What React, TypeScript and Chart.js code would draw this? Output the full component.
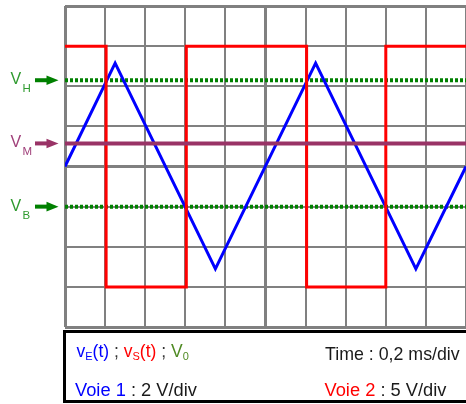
import { useEffect, useRef } from "react";
import { Chart, registerables } from "chart.js";

Chart.register(...registerables);

// ---- data (time in ms, voltages in V) ----
const screenTime = [0, 2]; // 10 div x 0.2 ms/div
const voie1Range = [-8, 8]; // 8 div x 2 V/div
const voie2Range = [-20, 20]; // 8 div x 5 V/div

const triangleTimes = [0, 0.25, 0.75, 1.25, 1.75, 2.0];
const triangleVolts = [0.0, 5.15, -5.1, 5.15, -5.1, 0.0];

const squareTimes = [0, 0.205, 0.205, 0.605, 0.605, 1.205, 1.205, 1.6, 1.6, 2.0];
const squareVolts = [15, 15, -15, -15, 15, 15, -15, -15, 15, 15];

const thresholdNames = ["H", "M", "B"];
const thresholdVolts = [4.3, 1.15, -2.0];

const FONT = '"Liberation Sans", Arial, sans-serif';
const GREEN = "#008000";
const PURPLE = "#993366";
const labelColors = ["#2f9a2f", "#a0407a", "#2f9a2f"];
const arrowColors = [GREEN, PURPLE, GREEN];

const pts = (xs: number[], ys: number[]) => xs.map((x, i) => ({ x, y: ys[i] }));
const hline = (v: number) => [
  { x: screenTime[0], y: v },
  { x: screenTime[1], y: v },
];

const labelPlugin = {
  id: "thresholdLabels",
  afterDraw(chart: any) {
    const ctx = chart.ctx as CanvasRenderingContext2D;
    const y = chart.scales.y;
    ctx.save();
    thresholdVolts.forEach((v, i) => {
      const py = y.getPixelForValue(v);
      ctx.fillStyle = labelColors[i];
      ctx.textBaseline = "alphabetic";
      ctx.font = `16px ${FONT}`;
      ctx.fillText("V", 10.5, py + 4);
      ctx.font = `11.5px ${FONT}`;
      ctx.fillText(thresholdNames[i], 22.5, py + 12);
      ctx.fillStyle = arrowColors[i];
      ctx.fillRect(35, py - 2, 12.5, 4);
      ctx.beginPath();
      ctx.moveTo(46.5, py - 4.8);
      ctx.lineTo(58.5, py);
      ctx.lineTo(46.5, py + 4.8);
      ctx.closePath();
      ctx.fill();
    });
    ctx.restore();
  },
};

function Txt(props: { left: number; base: number; size: number; children: any }) {
  const { left, base, size } = props;
  return (
    <div
      style={{
        position: "absolute",
        left,
        top: base - 0.8465 * size,
        fontSize: size,
        lineHeight: 1,
        whiteSpace: "nowrap",
        fontFamily: FONT,
        color: "#1a1a1a",
      }}
    >
      {props.children}
    </div>
  );
}

function Sub(props: { color: string; size: number; drop: number; children: any }) {
  return (
    <span
      style={{
        position: "relative",
        top: props.drop,
        fontSize: props.size,
        lineHeight: 1,
        color: props.color,
      }}
    >
      {props.children}
    </span>
  );
}

export default function App() {
  const ref = useRef<HTMLCanvasElement | null>(null);

  useEffect(() => {
    document.body.style.margin = "0";
    if (!ref.current) return;
    const chart = new Chart(ref.current, {
      type: "scatter",
      data: {
        datasets: [
          {
            label: "VM",
            data: hline(thresholdVolts[1]),
            showLine: true,
            borderColor: PURPLE,
            borderWidth: 4,
            pointRadius: 0,
            yAxisID: "y",
            order: 0,
          },
          {
            label: "vS(t)",
            data: pts(squareTimes, squareVolts),
            showLine: true,
            borderColor: "#ff0000",
            borderWidth: 3,
            pointRadius: 0,
            yAxisID: "y2",
            order: 1,
          },
          {
            label: "vE(t)",
            data: pts(triangleTimes, triangleVolts),
            showLine: true,
            borderColor: "#0000ff",
            borderWidth: 3,
            pointRadius: 0,
            yAxisID: "y",
            order: 2,
          },
          {
            label: "VH",
            data: hline(thresholdVolts[0]),
            showLine: true,
            borderColor: GREEN,
            borderWidth: 4,
            borderDash: [3, 2],
            pointRadius: 0,
            yAxisID: "y",
            order: 3,
          },
          {
            label: "VB",
            data: hline(thresholdVolts[2]),
            showLine: true,
            borderColor: GREEN,
            borderWidth: 4,
            borderDash: [3, 2],
            pointRadius: 0,
            yAxisID: "y",
            order: 3,
          },
        ],
      },
      options: {
        animation: false,
        responsive: false,
        devicePixelRatio: 1,
        layout: { padding: { left: 65, top: 6, right: 0, bottom: 77 } },
        plugins: { legend: { display: false }, tooltip: { enabled: false } },
        elements: { line: { tension: 0 } },
        scales: {
          x: {
            type: "linear",
            min: screenTime[0],
            max: screenTime[1],
            ticks: { display: false, stepSize: 0.2 },
            border: { display: false },
            grid: {
              color: "#808080",
              drawTicks: false,
              lineWidth: (c: any) => (c.index === 0 || c.index === 5 || c.index === 10 ? 3 : 2),
            },
          },
          y: {
            type: "linear",
            min: voie1Range[0],
            max: voie1Range[1],
            ticks: { display: false, stepSize: 2 },
            border: { display: false },
            grid: {
              color: "#808080",
              drawTicks: false,
              lineWidth: (c: any) => (c.index === 0 || c.index === 4 || c.index === 8 ? 3 : 2),
            },
          },
          y2: {
            type: "linear",
            display: false,
            min: voie2Range[0],
            max: voie2Range[1],
          },
        },
      },
      plugins: [labelPlugin],
    });
    return () => chart.destroy();
  }, []);

  return (
    <div style={{ position: "relative", width: 466, height: 404, overflow: "hidden", background: "#fff" }}>
      <canvas ref={ref} width={466} height={404} style={{ position: "absolute", left: 0, top: 0 }} />
      <div
        style={{
          position: "absolute",
          left: 63,
          top: 330,
          width: 430,
          height: 73,
          border: "3px solid #000",
          boxSizing: "border-box",
        }}
      />
      <Txt left={76.5} base={358} size={17.5}>
        <span style={{ color: "#0000ff" }}>
          v<Sub color="#0000ff" size={11} drop={3}>E</Sub>(t)
        </span>
        <span style={{ color: "#333" }}> ; </span>
        <span style={{ color: "#ff0000" }}>
          v<Sub color="#ff0000" size={11} drop={3}>S</Sub>(t)
        </span>
        <span style={{ color: "#333" }}> ; </span>
        <span style={{ color: "#4f8a23" }}>
          V<Sub color="#4f8a23" size={11} drop={3}>0</Sub>
        </span>
      </Txt>
      <Txt left={325} base={361.5} size={17.8}>
        Time : 0,2 ms/div
      </Txt>
      <Txt left={75} base={396} size={18.3}>
        <span style={{ color: "#0000ff" }}>Voie 1</span> : 2 V/div
      </Txt>
      <Txt left={324.5} base={396} size={18.3}>
        <span style={{ color: "#ff0000" }}>Voie 2</span> : 5 V/div
      </Txt>
    </div>
  );
}
